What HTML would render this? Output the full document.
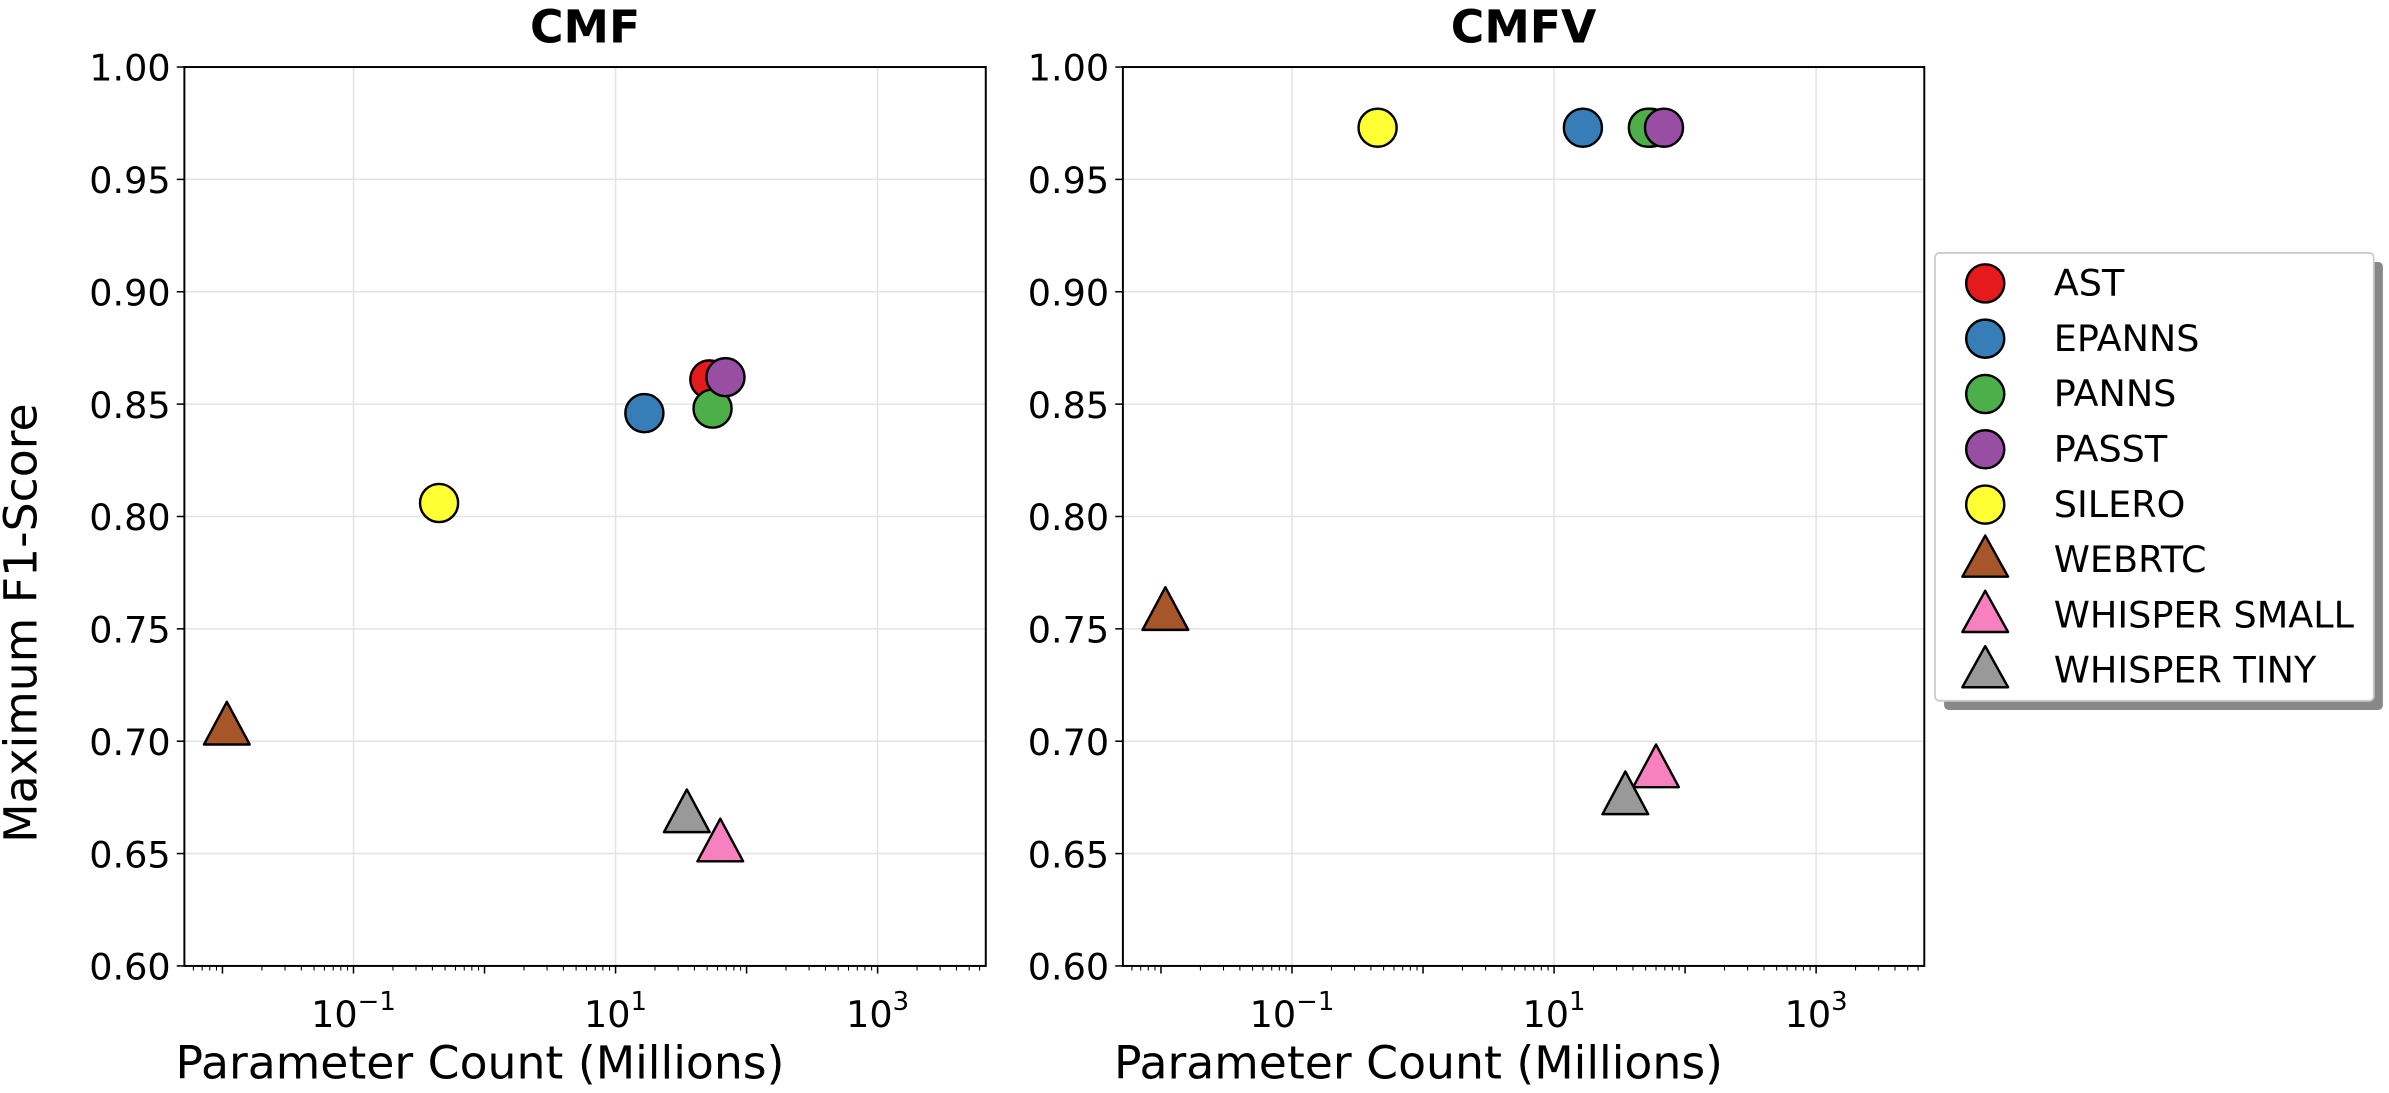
<!DOCTYPE html>
<html><head><meta charset="utf-8">
<style>
html,body{margin:0;padding:0;background:#fff;}
svg{display:block;font-family:"DejaVu Sans","Liberation Sans",sans-serif;}
</style></head>
<body>
<svg id="chart" width="2389" height="1093" viewBox="0 0 1568 717.4" xmlns="http://www.w3.org/2000/svg"></svg>
<script>
const models = ["AST","EPANNS","PANNS","PASST","SILERO","WEBRTC","WHISPER SMALL","WHISPER TINY"];
const colors = ["#e41a1c","#377eb8","#4daf4a","#984ea3","#ffff33","#a65628","#f781bf","#999999"];
const shapes = ["o","o","o","o","o","^","^","^"];
const params = [52, 16.6, 55, 69, 0.45, 0.0108, 63, 35];
const paramsV = [55, 16.6, 52, 69, 0.45, 0.0108, 60, 35];
const f1CMF = [0.861, 0.846, 0.848, 0.862, 0.806, 0.706, 0.654, 0.667];
const f1CMFV = [0.973, 0.973, 0.973, 0.973, 0.973, 0.757, 0.687, 0.675];
const yTicks = [0.60,0.65,0.70,0.75,0.80,0.85,0.90,0.95,1.00];
const xTickExps = [-1,1,3];

const svgEl = document.getElementById('chart');
const NS = "http://www.w3.org/2000/svg";
function mk(tag, attrs, parent){const e=document.createElementNS(NS,tag);for(const k in attrs)e.setAttribute(k,attrs[k]);(parent||svgEl).appendChild(e);return e;}

const yTop=44, yBottom=634, W=526;
const logMin=-1-111/86, pxPerDec=86;
function yScale(v){return yTop+(1-v)/0.4*(yBottom-yTop);}

function panel(x0, title, xs, ys, key){
  const g=mk('g',{});
  
  
  const xScale=v=>x0+(Math.log10(v)-logMin)*pxPerDec;
  yTicks.forEach(t=>{const l=mk('line',{x1:x0,x2:x0+W,y1:yScale(t),y2:yScale(t),stroke:'#e3e3e3','stroke-width':1},g);
    
    });
  xTickExps.forEach(e=>{const x=xScale(Math.pow(10,e));const l=mk('line',{x1:x,x2:x,y1:yTop,y2:yBottom,stroke:'#e3e3e3','stroke-width':1},g);
    
    });
  yTicks.forEach(t=>{const y=yScale(t);
    mk('line',{x1:x0-5,x2:x0,y1:y,y2:y,stroke:'#000','stroke-width':1},g);
    const tx=mk('text',{x:x0-9,y:y+9,'text-anchor':'end','font-size':24},g);
    tx.textContent=t.toFixed(2);
    
    });
  for(let e=-3;e<4;e++){for(let m=1;m<10;m++){const v=m*Math.pow(10,e);const x=xScale(v);
    if(x<x0||x>x0+W)continue;
    const major=(m===1);
    mk('line',{x1:x,x2:x,y1:yBottom,y2:yBottom+(major?5:3),stroke:'#000','stroke-width':major?1:0.7},g);}}
  xTickExps.forEach(e=>{const x=xScale(Math.pow(10,e));
    const tx=mk('text',{x:x,y:yBottom+40,'text-anchor':'middle','font-size':24},g);
    
    
    const a=mk('tspan',{},tx);a.textContent='10';
    const b=mk('tspan',{dy:-11,'font-size':17},tx);b.textContent=(e<0?'\u2212':'')+Math.abs(e);});
  const fr=mk('rect',{x:x0,y:yTop,width:W,height:yBottom-yTop,fill:'none',stroke:'#000','stroke-width':1.3},g);
  
  
  const ti=mk('text',{x:x0+W/2,y:yTop-16,'text-anchor':'middle','font-size':30,'font-weight':'bold'},g);
  ti.textContent=title;
  
  
  const xl=mk('text',{x:x0+W/2-69,y:yBottom+74,'text-anchor':'middle','font-size':30},g);
  xl.textContent='Parameter Count (Millions)';
  
  
  models.forEach((m,i)=>{const x=xScale(xs[i]),y=yScale(ys[i]);let p;
    if(shapes[i]==='o'){p=mk('circle',{cx:x,cy:y,r:12.5,fill:colors[i],stroke:'#000','stroke-width':1.6},g);}
    else{p=mk('polygon',{points:`${x},${y-17} ${x-15},${y+11} ${x+15},${y+11}`,fill:colors[i],stroke:'#000','stroke-width':1.6,'stroke-linejoin':'round'},g);}
    
    });
}
panel(121,'CMF',params,f1CMF,'cmf');
panel(737,'CMFV',paramsV,f1CMFV,'cmfv');

const yl=mk('text',{x:0,y:0,'text-anchor':'middle','font-size':30,transform:`translate(24,409) rotate(-90)`});
yl.textContent='Maximum F1-Score';



const lg=mk('g',{});


mk('rect',{x:1276,y:172,width:288,height:294,fill:'#888',rx:3},lg);
mk('rect',{x:1270,y:166,width:288,height:294,fill:'#fff',stroke:'#ccc','stroke-width':1.2,rx:3},lg);
models.forEach((m,i)=>{const y=186+i*36.3,x=1303;let p;
  if(shapes[i]==='o')p=mk('circle',{cx:x,cy:y,r:12.5,fill:colors[i],stroke:'#000','stroke-width':1.6},lg);
  else p=mk('polygon',{points:`${x},${y-16} ${x-15},${y+11} ${x+15},${y+11}`,fill:colors[i],stroke:'#000','stroke-width':1.6,'stroke-linejoin':'round'},lg);
  
  
  const t=mk('text',{x:1348,y:y+8,'font-size':24},lg);
  t.textContent=m;
  
  });
</script>
</body></html>
